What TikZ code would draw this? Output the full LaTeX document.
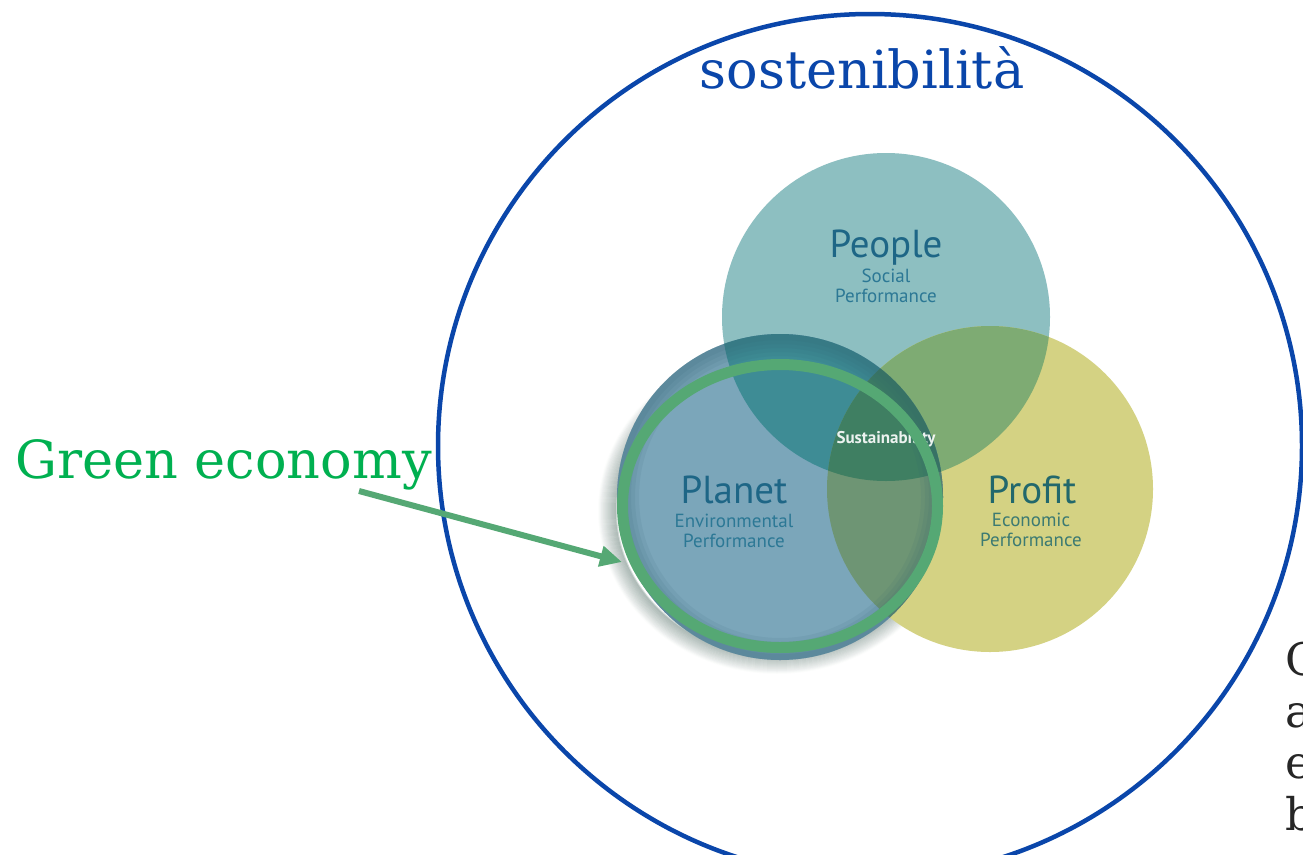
\documentclass[tikz,border=0pt]{standalone}
\usepackage{fontspec}
\newfontfamily\slabfont{DejaVu Serif}
\newfontfamily\venfont{PT Sans}
\usetikzlibrary{arrows.meta}
\definecolor{bigblue}{HTML}{0A46AA}
\definecolor{geco}{HTML}{00B050}
\definecolor{ringgreen}{HTML}{55A874}
\definecolor{peoplecol}{HTML}{8DBFC1}
\definecolor{planetcol}{HTML}{7BA6BA}
\definecolor{profitcol}{HTML}{D4D283}
\definecolor{peopleplanet}{HTML}{3E8C95}
\definecolor{peopleprofit}{HTML}{7EAB73}
\definecolor{planetprofit}{HTML}{6E9574}
\definecolor{triplecol}{HTML}{3F7F62}
\definecolor{labblue}{HTML}{1E6686}
\definecolor{sublab}{HTML}{2C7895}
\definecolor{proflab}{HTML}{22686C}
\definecolor{profsub}{HTML}{3C7A72}
\definecolor{edgeshade}{HTML}{2F6070}
\definecolor{glowcol}{HTML}{3A5A50}
\tikzset{
  bigtitle/.style={font=\slabfont\fontsize{52.5}{56}\selectfont, inner sep=0pt},
  cuttext/.style={font=\slabfont\fontsize{45}{50}\selectfont, inner sep=0pt, text=black!85},
  venmain/.style={font=\venfont\fontsize{39}{42}\selectfont, inner sep=0pt, text=labblue, anchor=base},
  vensub/.style={font=\venfont\fontsize{19}{20}\selectfont, inner sep=0pt, text=sublab, anchor=base},
}
\begin{document}
\begin{tikzpicture}[x=1pt,y=-1pt]
  \useasboundingbox (0,0) rectangle (1303,854);
  \fill[white] (0,0) rectangle (1303,854);

  %%%%% outer circle %%%%%
  \draw[bigblue, line width=4.5] (870,446) circle (432);
  \node[bigtitle, text=bigblue, anchor=base] (sost) at (862,88) {sostenibilità};

  %%%%% soft glow round the ring %%%%%
  \foreach \k in {1,...,18}{
    \pgfmathsetmacro{\op}{0.02*(19-\k)/1.6}
    \draw[glowcol, opacity=\op, line width=2] (777,511) ellipse ({160+\k} and {144+\k});
  }

  %%%%% venn circles %%%%%
  \fill[peoplecol] (886,317) circle (164);
  \fill[profitcol] (990,489) circle (163);
  \begin{scope}
    \clip (886,317) circle (164);
    \fill[peopleprofit] (990,489) circle (163);
  \end{scope}
  \fill[planetcol] (780,497) circle (163);
  \begin{scope}
    \clip (780,497) circle (163);
    \fill[peopleplanet] (886,317) circle (164);
    \fill[planetprofit] (990,489) circle (163);
    \clip (886,317) circle (164);
    \fill[triplecol] (990,489) circle (163);
  \end{scope}
  % inner shadow of planet
  \begin{scope}
    \clip (780,497) circle (163);
    \foreach \w in {44,36,28,20,12}
      \draw[edgeshade, opacity=0.09, line width=\w] (780,497) circle (163);
  \end{scope}

  %%%%% labels %%%%%
  \node[venmain] (people) at (886,257) {People};
  \node[vensub] (social) at (886,282) {Social};
  \node[vensub] (peopleperf) at (886,302) {Performance};
  \node[venmain] (planet) at (734,503) {Planet};
  \node[vensub] (environ) at (734,527) {Environmental};
  \node[vensub] (planetperf) at (734,547) {Performance};
  \node[venmain, text=proflab] (profit) at (1032,503) {Profit};
  \node[vensub, text=profsub] (economic) at (1031,526) {Economic};
  \node[vensub, text=profsub] (profitperf) at (1031,546) {Performance};
  \node[font=\venfont\bfseries\fontsize{17}{18}\selectfont, text=white, opacity=0.9, anchor=base, inner sep=0pt] (sust) at (886,443) {Sustainability};

  %%%%% green economy ring %%%%%
  \draw[ringgreen, line width=11] (780,506) ellipse (157.5 and 141.5);

  \node[bigtitle, text=geco, anchor=base west] (green) at (15,478) {Green economy};
  \coordinate (gtail) at (359,491);
  \coordinate (ghead) at (622,562);
  \draw[ringgreen, line width=6, -{Triangle[length=22pt,width=20pt]}] (gtail) -- (ghead);

  %%%%% cut text at the right %%%%%
  \foreach \ch/\yy in {C/675,a/727,e/778,b/830}
    \node[cuttext, anchor=base west] (cut\ch) at (1285,\yy) {\ch};
\end{tikzpicture}
\end{document}
